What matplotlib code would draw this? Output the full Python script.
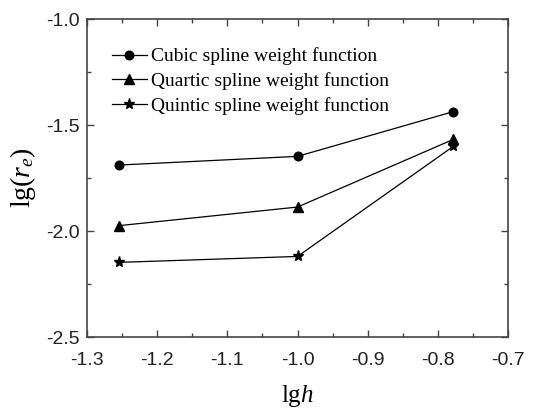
#! /usr/bin/env python3
#
# Relative error vs. smoothing length for three SPH kernels
#

import numpy as np
import matplotlib
matplotlib.use("Agg")
import matplotlib.pyplot as plt
from matplotlib.ticker import MultipleLocator

# Data (log10 of h and of relative error r_e)
lgh = [-1.255, -1.0, -0.778]
cubic = [-1.689, -1.648, -1.437]
quartic = [-1.975, -1.887, -1.568]
quintic = [-2.148, -2.120, -1.601]
labels = ["Cubic spline weight function",
          "Quartic spline weight function",
          "Quintic spline weight function"]

sansFont = "Liberation Sans"
serifFont = "Liberation Serif"
plt.rcParams['mathtext.fontset'] = 'custom'
plt.rcParams['mathtext.rm'] = serifFont
plt.rcParams['mathtext.it'] = serifFont + ":italic"

fig = plt.figure(figsize=(5.36, 4.09), dpi=100)
ax = fig.add_axes([87/536., 1-337/409., (508-87)/536., (337-19)/409.])

ax.plot(lgh, cubic, 'k-', marker='o', ms=6.2, lw=0.9, label=labels[0])
ax.plot(lgh, quartic, 'k-', marker='^', ms=6.8, lw=0.9, label=labels[1])
ax.plot(lgh, quintic, 'k-', marker='*', ms=8, lw=0.9, label=labels[2])

ax.set_xlim(-1.3, -0.7)
ax.set_ylim(-2.5, -1.0)
ax.xaxis.set_major_locator(MultipleLocator(0.1))
ax.xaxis.set_minor_locator(MultipleLocator(0.05))
ax.yaxis.set_major_locator(MultipleLocator(0.5))
ax.yaxis.set_minor_locator(MultipleLocator(0.25))
ax.tick_params(which='both', direction='in', top=True, right=True, color='#444444')
ax.tick_params(which='major', length=5, width=1)
ax.tick_params(which='minor', length=3, width=1)
ax.tick_params(axis='x', pad=11)
ax.tick_params(axis='y', pad=5)
for sp in ax.spines.values():
	sp.set_color('#444444')
	sp.set_linewidth(1.2)

ax.set_xticklabels(["%.1f" % v for v in ax.get_xticks()])
ax.set_yticklabels(["%.1f" % v for v in ax.get_yticks()])
for lab in ax.get_xticklabels() + ax.get_yticklabels():
	lab.set_fontfamily(sansFont)
	lab.set_fontsize(14)
	lab.set_color('#222222')

ax.set_xlabel(r"lg$h$", fontfamily=serifFont, fontsize=18, labelpad=10)
ax.set_ylabel(r"lg($r_e$)", fontfamily=serifFont, fontsize=20, labelpad=6)

leg = ax.legend(loc='upper left', bbox_to_anchor=(0.04, 0.935), frameon=False,
				prop={'family': serifFont, 'size': 14}, handlelength=1.8,
				handletextpad=0.2, labelspacing=0.36, borderaxespad=0)

fig.savefig("out.png", dpi=100)
plt.close(fig)
